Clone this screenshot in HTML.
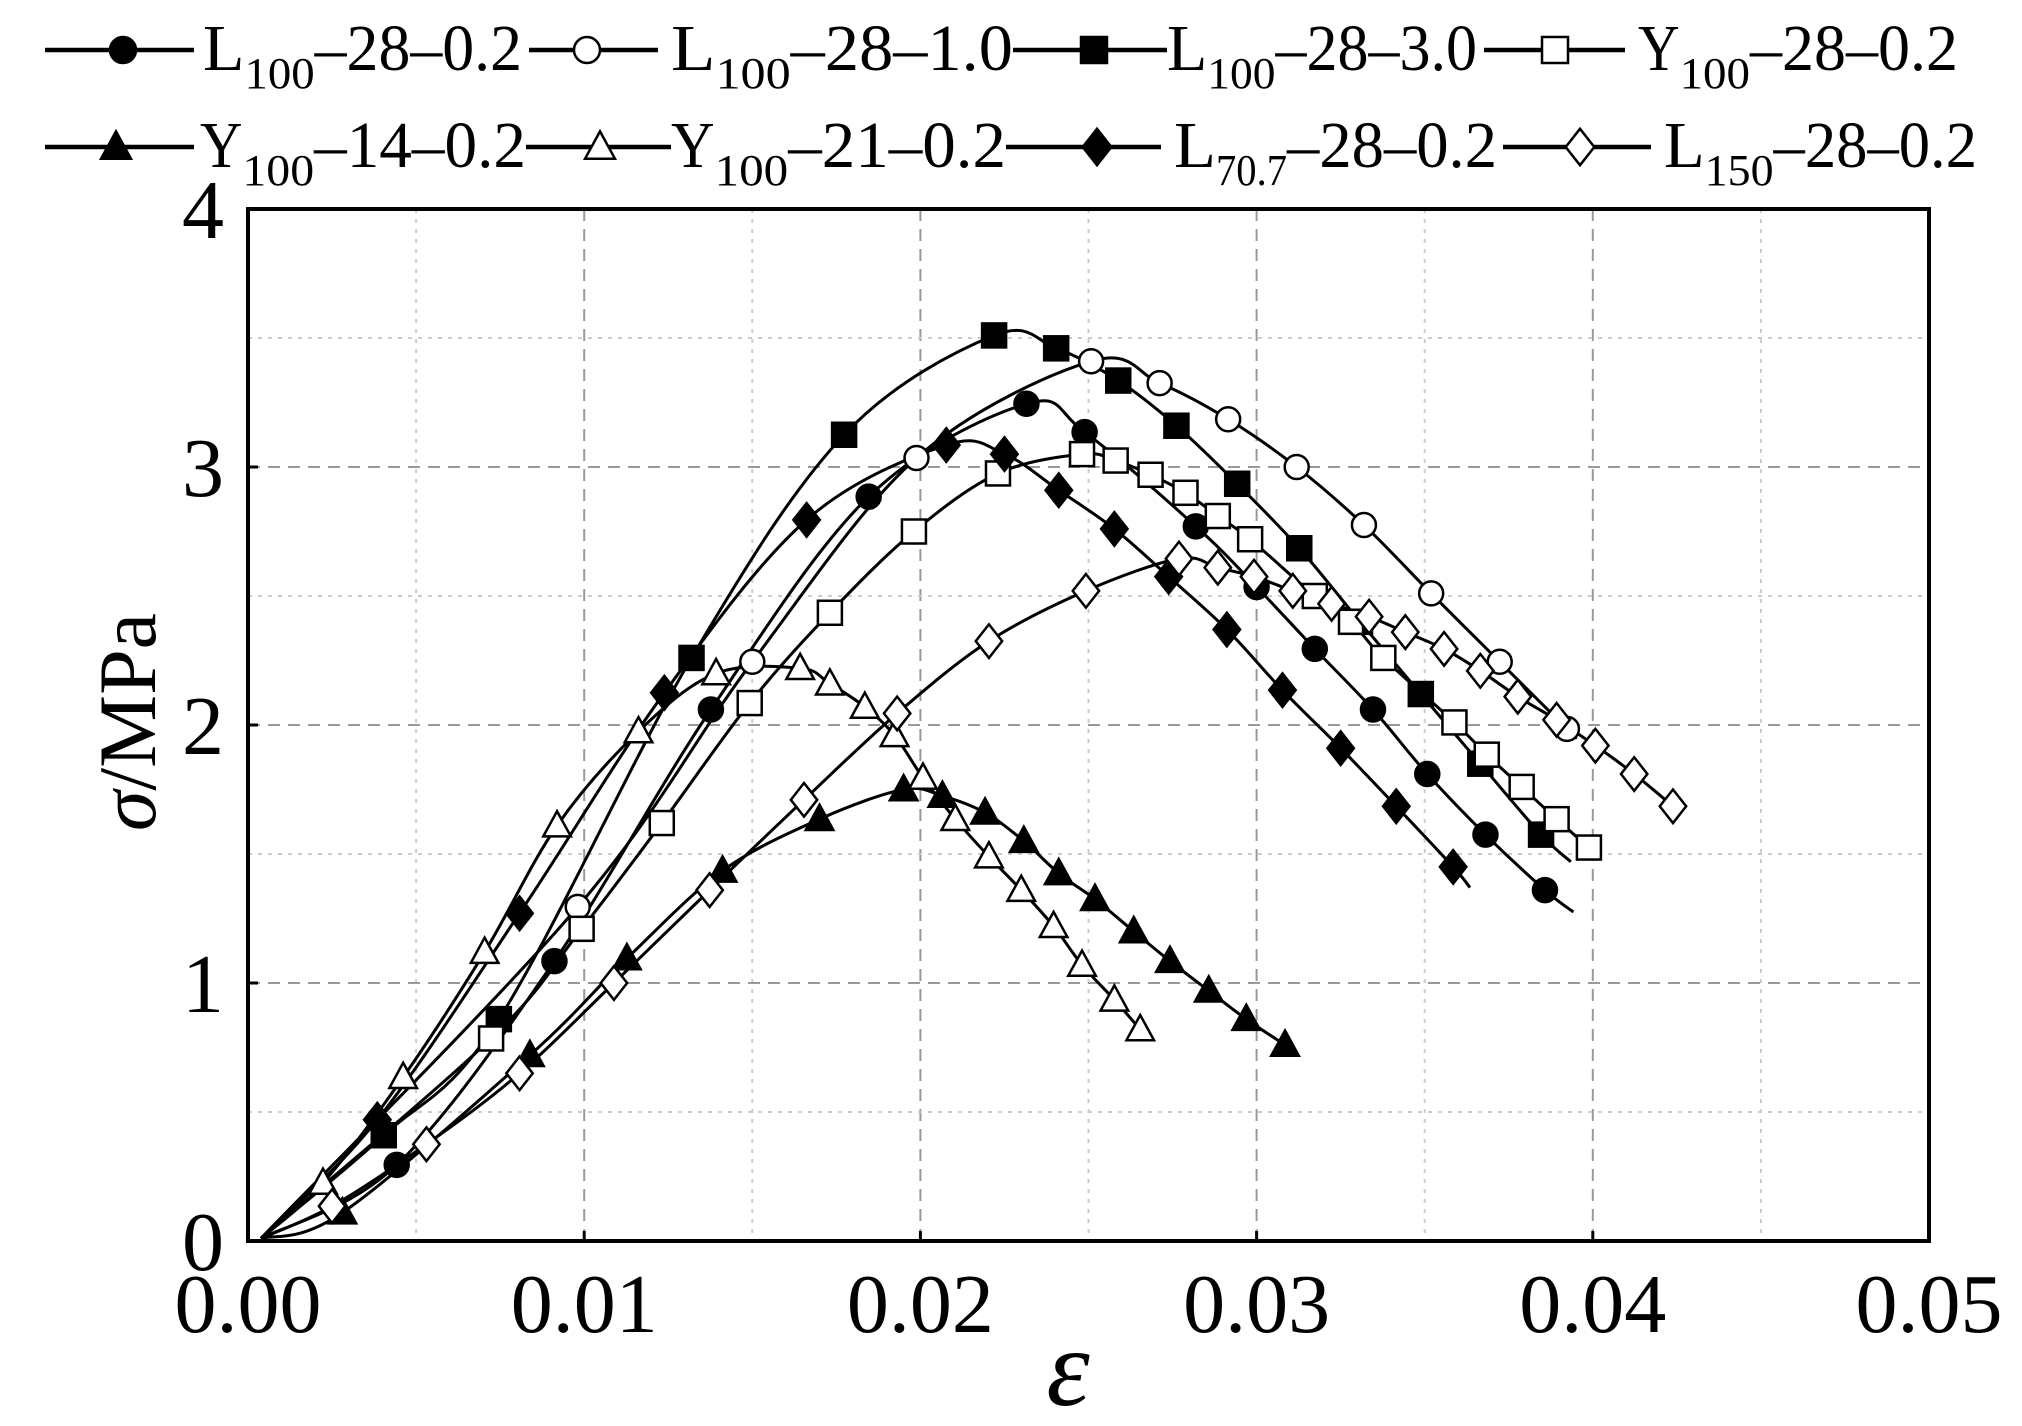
<!DOCTYPE html>
<html><head><meta charset="utf-8">
<style>
html,body{margin:0;padding:0;background:#fff;}
svg{display:block;}
text{font-family:"Liberation Serif","DejaVu Serif",serif;fill:#000;}
</style></head>
<body>
<svg id="s" width="2022" height="1426" xmlns="http://www.w3.org/2000/svg">
<rect width="2022" height="1426" fill="#fff"/>
<g id="grid"></g>
<g id="series"></g>
<rect x="248" y="209" width="1681" height="1032" fill="none" stroke="#000" stroke-width="4"/>
<g id="ticks"></g>
<g id="legend"></g>
<text x="1068" y="1405" font-size="110" font-style="italic" text-anchor="middle">ε</text>
<text transform="translate(155,722) rotate(-90)" font-size="82" text-anchor="middle"><tspan font-style="italic">σ</tspan>/MPa</text>
</svg>
<script>
const NS="http://www.w3.org/2000/svg";
function el(tag,attrs,parent,txt){const e=document.createElementNS(NS,tag);for(const k in attrs)e.setAttribute(k,attrs[k]);if(txt!==undefined)e.textContent=txt;parent.appendChild(e);return e;}
const X0=248,X1=1929,Y0=1241,Y1=209;
function dx(d){return X0+(d-195)*(1681/1300);}
function dy(d){return Y0-(962-d)*(1032/800);}
const grid=document.getElementById('grid'),ticks=document.getElementById('ticks');
for(let i=1;i<10;i++){const x=X0+i*(X1-X0)/10;
  el('line',{x1:x,y1:Y1,x2:x,y2:Y0,stroke:i%2?'#ccc':'#999','stroke-width':2,'stroke-dasharray':i%2?'4 6':'12 8'},grid);}
for(let i=1;i<8;i++){const y=Y0-i*(Y0-Y1)/8;
  el('line',{x1:X0,y1:y,x2:X1,y2:y,stroke:i%2?'#ccc':'#999','stroke-width':2,'stroke-dasharray':i%2?'4 6':'12 8'},grid);}
for(let i=0;i<=5;i++){const x=X0+i*(X1-X0)/5;
  el('line',{x1:x,y1:Y0,x2:x,y2:Y0-10,stroke:'#000','stroke-width':3},ticks);
  el('text',{x:x,y:1332,'font-size':84,'text-anchor':'middle'},ticks,(i/100).toFixed(2));}
for(let i=0;i<=4;i++){const y=Y0-i*(Y0-Y1)/4;
  el('line',{x1:X0,y1:y,x2:X0+10,y2:y,stroke:'#000','stroke-width':3},ticks);
  el('text',{x:224,y:y+29,'font-size':84,'text-anchor':'end'},ticks,String(i));}
function marker(type,x,y,g,s){s=s||12;
  const fill=(type.startsWith('f'))?'#000':'#fff';const a={fill:fill,stroke:'#000','stroke-width':2.5};
  if(type.endsWith('c'))el('circle',Object.assign({cx:x,cy:y,r:s},a),g);
  else if(type.endsWith('s'))el('rect',Object.assign({x:x-s,y:y-s,width:2*s,height:2*s},a),g);
  else if(type.endsWith('t'))el('polygon',Object.assign({points:`${x},${y-s*1.2} ${x-s*1.15},${y+s*0.9} ${x+s*1.15},${y+s*0.9}`},a),g);
  else if(type.endsWith('d'))el('polygon',Object.assign({points:`${x},${y-s*1.4} ${x+s*1.1},${y} ${x},${y+s*1.4} ${x-s*1.1},${y}`},a),g);
}
const S=[
 ['fc',[[310,903],[432,745],[553,550],[675,385],[797,313],[842,335],[928,408],[975,455],[1020,503],[1065,550],[1107,600],[1152,647],[1198,690]],[1220,707]],
 ['oc',[[450,703],[585,513],[712,355],[847,280],[900,297],[953,325],[1006,362],[1058,407],[1110,460],[1163,513],[1215,565]],[1222,572]],
 ['fs',[[300,880],[389,790],[538,510],[656,337],[772,260],[820,270],[868,295],[913,330],[960,375],[1008,425],[1055,482],[1102,538],[1148,592],[1195,647]],[1218,668]],
 ['os',[[383,805],[453,720],[515,638],[583,545],[645,475],[710,412],[775,367],[840,352],[866,357],[893,368],[920,382],[945,400],[970,418],[1020,462],[1048,482],[1073,510],[1128,560],[1153,585],[1180,610],[1207,635],[1232,657]],null],
 ['ft',[[268,940],[413,818],[488,743],[562,675],[637,635],[702,612],[732,617],[765,630],[795,652],[822,677],[850,697],[880,722],[908,745],[938,768],[967,790],[997,810]],null],
 ['ot',[[253,917],[315,835],[378,738],[434,640],[497,567],[557,522],[622,518],[645,530],[672,548],[695,570],[717,603],[742,635],[768,664],[793,690],[818,718],[840,748],[865,775],[885,798]],null],
 ['fd',[[295,868],[405,708],[517,537],[627,403],[735,345],[780,352],[822,380],[865,410],[907,447],[952,488],[995,535],[1040,580],[1083,625],[1127,672]],[1140,688]],
 ['od',[[260,935],[333,887],[405,832],[478,762],[552,690],[625,620],[697,553],[768,497],[843,458],[915,433],[945,440],[973,447],[1003,458],[1033,468],[1062,478],[1090,490],[1120,503],[1148,520],[1177,540],[1207,558],[1237,578],[1267,600],[1297,625]],null]
];
function smooth(P){let d=`M${P[0][0]},${P[0][1]}`;
  for(let i=0;i<P.length-1;i++){const p0=P[Math.max(0,i-1)],p1=P[i],p2=P[i+1],p3=P[Math.min(P.length-1,i+2)];
    const c1=[p1[0]+(p2[0]-p0[0])/6,p1[1]+(p2[1]-p0[1])/6],c2=[p2[0]-(p3[0]-p1[0])/6,p2[1]-(p3[1]-p1[1])/6];
    d+=` C${c1[0]},${c1[1]} ${c2[0]},${c2[1]} ${p2[0]},${p2[1]}`;}
  return d;}
const sg=document.getElementById('series');
S.forEach(([t,pts,end])=>{
  let all=[[205,960]].concat(pts);if(end)all.push(end);
  el('path',{d:smooth(all.map(p=>[dx(p[0]),dy(p[1])])),fill:'none',stroke:'#000','stroke-width':3,'stroke-linejoin':'round'},sg);
});
S.forEach(([t,pts])=>pts.forEach(p=>marker(t,dx(p[0]),dy(p[1]),sg,12)));
const lg=document.getElementById('legend');
const L=[
 [50,70,45,194,123,'fc','L','100','–28–0.2',203,522],
 [50,70,529,658,587,'oc','L','100','–28–1.0',671,1013],
 [50,70,1013,1167,1094,'fs','L','100','–28–3.0',1167,1477],
 [50,70,1484,1625,1555,'os','Y','100','–28–0.2',1638,1958],
 [147,167,45,194,116,'ft','Y','100','–14–0.2',200,526],
 [147,167,526,671,600,'ot','Y','100','–21–0.2',671,1006],
 [147,167,1006,1161,1097,'fd','L','70.7','–28–0.2',1174,1497],
 [147,167,1503,1651,1580,'od','L','150','–28–0.2',1664,1977]
];
L.forEach(([ly,by,x1,x2,mx,t,a,sub,rest,tx,tend])=>{
  el('line',{x1:x1,y1:ly,x2:x2,y2:ly,stroke:'#000','stroke-width':4.5},lg);
  marker(t,mx,ly,lg,13);
  const w=tend-tx;
  const aw=w*0.13, sw=w*0.22, rw=w-aw-sw;
  el('text',{x:tx,y:by,'font-size':66,textLength:aw,lengthAdjust:'spacingAndGlyphs'},lg,a);
  el('text',{x:tx+aw,y:by+18,'font-size':44,textLength:sw,lengthAdjust:'spacingAndGlyphs'},lg,sub);
  el('text',{x:tx+aw+sw,y:by,'font-size':66,textLength:rw,lengthAdjust:'spacingAndGlyphs'},lg,rest);
});
</script>
</body></html>
